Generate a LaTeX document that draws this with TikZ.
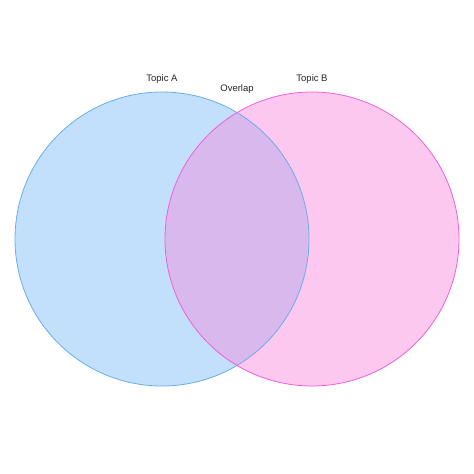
\documentclass[tikz,border=0pt]{standalone}
\usepackage{fontspec}
\setmainfont{Liberation Sans}
\definecolor{afill}{HTML}{C2DFFC}
\definecolor{aline}{HTML}{6AAEE8}
\definecolor{bfill}{HTML}{FDC8F0}
\definecolor{bline}{HTML}{F060D8}
\definecolor{ofill}{HTML}{D9B8EE}
\begin{document}
\begin{tikzpicture}[x=1pt,y=-1pt,lbl/.style={font=\fontsize{9.5}{11}\selectfont,text=black!85}]
\useasboundingbox (0,0) rectangle (474,474);
\fill[white] (0,0) rectangle (474,474);
\fill[afill] (162,239) circle (147);
\fill[bfill] (312,239) circle (147);
\begin{scope}
\clip (162,239) circle (147);
\fill[ofill] (312,239) circle (147);
\end{scope}
\draw[aline,line width=0.8pt] (162,239) circle (147);
\draw[bline,line width=0.8pt] (312,239) circle (147);
\node[lbl] (ta) at (162,79) {Topic A};
\node[lbl] (ov) at (237,89) {Overlap};
\node[lbl] (tb) at (312,79) {Topic B};
\end{tikzpicture}
\end{document}
